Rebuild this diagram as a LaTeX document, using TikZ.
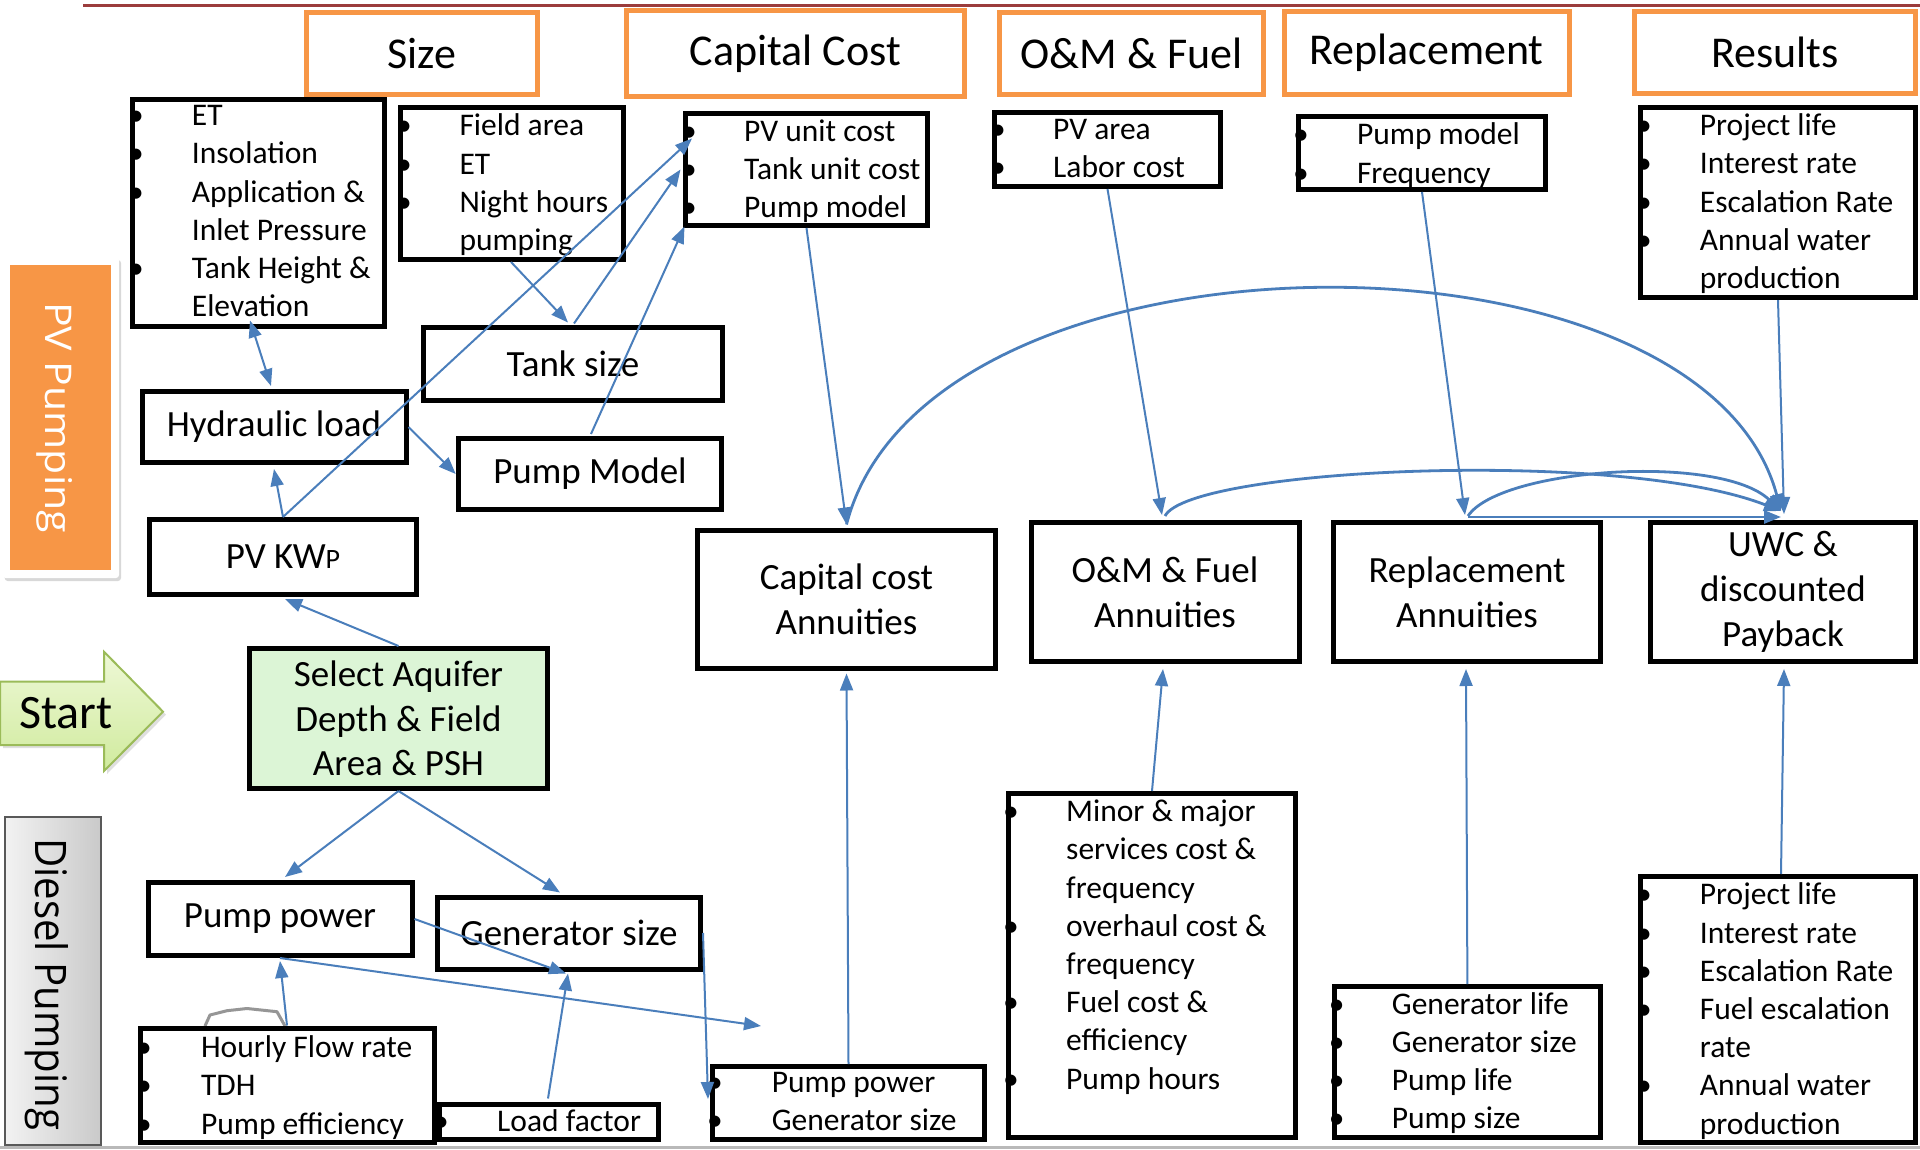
\documentclass[tikz,border=0pt]{standalone}
\usepackage{fontspec}
\setmainfont{Carlito}
\newfontfamily\labfont{Open Sans}
\usetikzlibrary{arrows.meta,calc,shadows}
\definecolor{hdrorange}{RGB}{247,150,70}
\definecolor{conblue}{RGB}{74,126,187}
\definecolor{topred}{RGB}{155,60,60}
\definecolor{selgreen}{RGB}{220,245,214}
\definecolor{startlight}{RGB}{238,248,214}
\definecolor{startdark}{RGB}{208,235,158}
\definecolor{startedge}{RGB}{155,187,89}
\definecolor{tabgray}{RGB}{150,150,150}
\tikzset{
  >={Triangle[length=17pt,width=13pt]},
  hdr/.style={draw=hdrorange, line width=5pt, fill=white, inner sep=0pt, font=\fontsize{44}{50}\selectfont},
  bbox/.style={draw=black, line width=5pt, fill=white, inner sep=0pt, align=center, font=\fontsize{37}{44.7}\selectfont},
  lbox/.style={draw=black, line width=5pt, fill=white, inner sep=0pt},
  itm/.style={anchor=base west, inner sep=0pt, font=\fontsize{31.5}{38}\selectfont},
  bul/.style={anchor=base, inner sep=0pt, font=\fontsize{31.5}{38}\selectfont},
  con/.style={draw=conblue, line width=2pt, ->},
  arcon/.style={draw=conblue, line width=2.8pt, ->}
}
\newcommand\listitems[5]{%
  \foreach \ibul/\itx [count=\i] in {#5} {%
    \node[itm] (#1t\i) at (#3, {#4+(\i-1)*38.2}) {\itx};
    \ifnum\ibul=1 \node[bul] (#1b\i) at (#2, {#4+(\i-1)*38.2}) {•};\fi
  }}
\begin{document}
\begin{tikzpicture}[x=1pt,y=-1pt]
\fill[white] (0,0) rectangle (1920,1150);
\useasboundingbox (0,0) rectangle (1920,1150);

% frame lines
\draw[gray!55, line width=3pt] (0,1147) -- (1920,1147);
\draw[topred, line width=3pt] (83,5.5) -- (1920,5.5);

% side labels
\path[fill=white, rounded corners=3pt, drop shadow={opacity=0.3, shadow xshift=2pt, shadow yshift=-3pt}] (2.7,257) rectangle (119,578);
\fill[hdrorange] (10,265) rectangle (111,570);
\node[rotate=-90, anchor=base west, inner sep=0pt, text=white] (pvlab) at (45,302) {\resizebox{231pt}{27pt}{\labfont PV Pumping}};

\draw[draw=gray!70!black, line width=2pt, left color=gray!10, right color=gray!42] (5,817) rectangle (101,1145);
\node[rotate=-90, anchor=base west, inner sep=0pt] (dslab) at (35,838) {\resizebox{292pt}{33pt}{\labfont Diesel Pumping}};

\draw[draw=startedge, line width=2pt, top color=startlight, bottom color=startdark, drop shadow={opacity=0.25, shadow xshift=3pt, shadow yshift=-3pt}]
  (0,681.7) -- (104,681.7) -- (104,651.7) -- (163,711.7) -- (104,771) -- (104,745) -- (0,745) -- cycle;
\node[anchor=base west, inner sep=0pt, font=\fontsize{48}{52}\selectfont] (start) at (19,728) {Start};

% headers
\node[hdr, minimum width=231pt, minimum height=82pt] (hSize) at (422,53.5) {Size};
\node[hdr, minimum width=338pt, minimum height=86pt] (hCap) at (795.5,53.5) {Capital Cost};
\node[hdr, minimum width=264pt, minimum height=82pt] (hOM) at (1131.5,53.5) {O\&M \& Fuel};
\node[hdr, minimum width=285pt, minimum height=83pt] (hRep) at (1426.5,53) {Replacement};
\node[hdr, minimum width=281pt, minimum height=82pt] (hRes) at (1775,52.5) {Results};

% gray tab
\draw[tabgray, line width=3pt, line join=round] (205,1026) -- (210,1015) -- (227,1010.7) -- (247,1008.5) -- (277,1011.7) -- (285,1026);

% list boxes
\node[lbox, minimum width=252pt, minimum height=227pt] (lsA) at (258.5,213) {};
\node[lbox, minimum width=223pt, minimum height=152pt] (lsB) at (512,183.5) {};
\node[lbox, minimum width=242pt, minimum height=112pt] (lsC) at (806.5,169.5) {};
\node[lbox, minimum width=226pt, minimum height=74pt] (lsD) at (1107.5,149.5) {};
\node[lbox, minimum width=247pt, minimum height=73pt] (lsE) at (1422,153) {};
\node[lbox, minimum width=275pt, minimum height=190pt] (lsF) at (1778,202.7) {};
\node[lbox, minimum width=294pt, minimum height=114pt] (lsN) at (287,1085) {};
\node[lbox, minimum width=219.5pt, minimum height=35pt] (lsO) at (549,1121.5) {};
\node[lbox, minimum width=272pt, minimum height=73pt] (lsP) at (848.5,1103) {};
\node[lbox, minimum width=287.6pt, minimum height=344pt] (lsU) at (1152,965.5) {};
\node[lbox, minimum width=266pt, minimum height=151pt] (lsV) at (1467.4,1062) {};
\node[lbox, minimum width=275pt, minimum height=266pt] (lsW) at (1778,1009.5) {};

% labelled boxes
\node[bbox, minimum width=264pt, minimum height=71pt] (hyd) at (274,427) {Hydraulic load};
\node[bbox, minimum width=298.5pt, minimum height=72pt] (tank) at (573,364) {Tank size};
\node[bbox, minimum width=263.5pt, minimum height=71pt] (pmodel) at (590,474) {Pump Model};
\node[bbox, minimum width=267pt, minimum height=75pt] (pvkwp) at (283,557) {PV KW{\fontsize{28}{30}\selectfont P}};
\node[bbox, minimum width=298pt, minimum height=138pt] (capann) at (846.5,599) {Capital cost\\Annuities};
\node[bbox, fill=selgreen, minimum width=298pt, minimum height=140pt] (sel) at (398.5,718.5) {Select Aquifer\\Depth \& Field\\Area \& PSH};
\node[bbox, minimum width=264pt, minimum height=73pt] (ppow) at (280,919) {Pump power};
\node[bbox, minimum width=263pt, minimum height=72pt] (gens) at (569,933) {Generator size};
\node[bbox, minimum width=268pt, minimum height=139pt] (omann) at (1165,592) {O\&M \& Fuel\\Annuities};
\node[bbox, minimum width=267.5pt, minimum height=139pt] (repann) at (1467,592) {Replacement\\Annuities};
\node[bbox, minimum width=265pt, minimum height=139pt] (uwc) at (1783,592) {UWC \&\\discounted\\Payback};

% list texts
\listitems{lsA}{136}{191.7}{125.8}{1/ET,1/Insolation,1/Application \&,0/Inlet Pressure,1/Tank Height \&,0/Elevation}
\listitems{lsB}{404}{459.3}{136}{1/Field area,1/ET,1/Night hours,0/pumping}
\listitems{lsC}{689}{744}{141.3}{1/PV unit cost,1/Tank unit cost,1/Pump model}
\listitems{lsD}{998}{1053}{139.8}{1/PV area,1/Labor cost}
\listitems{lsE}{1301}{1356.8}{145}{1/Pump model,1/Frequency}
\listitems{lsF}{1644}{1699.7}{135.8}{1/Project life,1/Interest rate,1/Escalation Rate,1/Annual water,0/production}
\listitems{lsN}{144}{200.9}{1057.6}{1/Hourly Flow rate,1/TDH,1/Pump efficiency}
\listitems{lsO}{441}{497}{1131.6}{1/Load factor}
\listitems{lsP}{715}{771.6}{1092.7}{1/Pump power,1/Generator size}
\listitems{lsU}{1011}{1066}{821.6}{1/Minor \& major,0/services cost \&,0/frequency,1/overhaul cost \&,0/frequency,1/Fuel cost \&,0/efficiency,1/Pump hours}
\listitems{lsV}{1336.6}{1391.7}{1014}{1/Generator life,1/Generator size,1/Pump life,1/Pump size}
\listitems{lsW}{1644}{1699.7}{904.8}{1/Project life,1/Interest rate,1/Escalation Rate,1/Fuel escalation,0/rate,1/Annual water,0/production}

% connectors
\coordinate (freeEnd) at (761,1026);
\draw[con, <->] ($(lsA.south)+(-8.5,-8.5)$) -- ($(hyd.north)+(-3,-3)$);
\draw[con] (pvkwp.north) -- ($(hyd.south)+(0,4)$);
\draw[con] (pvkwp.north) -- ($(lsC.west)+(9,-31)$);
\draw[con] ($(lsB.south)+(-1,0)$) -- ($(tank.north)+(-5,-3)$);
\draw[con] ($(tank.north)+(1,-2)$) -- ($(lsC.west)+(-2.5,0)$);
\draw[con] ($(pmodel.north)+(1,-2)$) -- ($(lsC.south west)+(1.5,-1.5)$);
\draw[con] (hyd.east) -- (pmodel.west);
\draw[con] (lsC.south) -- ($(capann.north)+(0,-3)$);
\draw[con] (sel.north) -- ($(pvkwp.south)+(2,2)$);
\draw[con] (sel.south) -- ($(ppow.north)+(5,-3)$);
\draw[con] (sel.south) -- ($(gens.north)+(-9,-2)$);
\draw[con] (ppow.east) -- ($(gens.south)+(-3,2)$);
\draw[con] (ppow.south) -- (freeEnd);
\draw[con] (lsN.north) -- ($(ppow.south)+(0,3)$);
\draw[con] ($(lsO.north)+(-1,-3)$) -- ($(gens.south)+(-1,2)$);
\draw[con] (gens.east) -- ($(lsP.west)+(-2,-4)$);
\draw[con] (lsP.north) -- ($(capann.south)+(0,3)$);
\draw[con] (lsD.south) -- ($(omann.north)+(-3,-5)$);
\draw[con] (lsE.south) -- ($(repann.north)+(-2,-5)$);
\draw[con] (lsF.south) -- ($(uwc.north)+(1,-6)$);
\draw[con] (lsV.north) -- ($(repann.south)+(-1,5)$);
\draw[con] (lsU.north) -- ($(omann.south)+(-2,5)$);
\draw[con] ($(lsW.north)+(3,0)$) -- ($(uwc.south)+(1,5)$);
\draw[arcon] ($(capann.north)+(0,-3)$) .. controls ($(capann.north)+(80,-313)$) and ($(uwc.north)+(-82,-308)$) .. ($(uwc.north)+(-2,-9)$);
\draw[arcon] ($(omann.north)+(0,-4)$) .. controls ($(omann.north)+(25,-52)$) and ($(uwc.north)+(-163,-72)$) .. ($(uwc.north)+(-2,-9)$);
\draw[arcon] ($(repann.north)+(1,-4)$) .. controls ($(repann.north)+(33,-52)$) and ($(uwc.north)+(-63,-67)$) .. ($(uwc.north)+(-2,-9)$);
\draw[arcon] ($(repann.north)+(1,-3)$) -- ($(uwc.north)+(-2,-3)$);
\end{tikzpicture}
\end{document}
